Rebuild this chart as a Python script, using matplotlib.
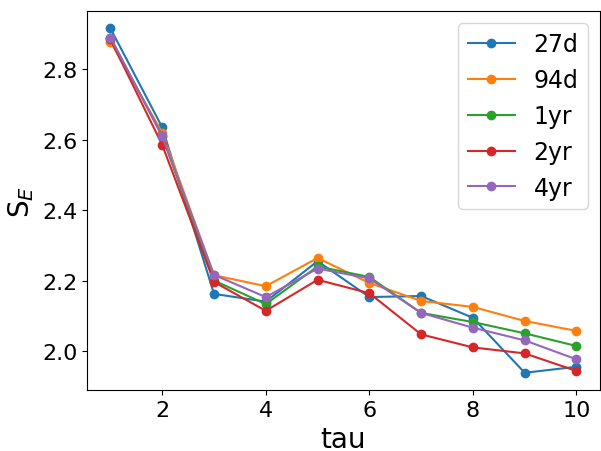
import matplotlib
matplotlib.use("Agg")
import matplotlib.pyplot as plt

tau = [1, 2, 3, 4, 5, 6, 7, 8, 9, 10]

se_27d = [2.916, 2.635, 2.162, 2.140, 2.255, 2.153, 2.156, 2.094, 1.938, 1.955]
se_94d = [2.878, 2.620, 2.215, 2.184, 2.264, 2.193, 2.142, 2.125, 2.085, 2.057]
se_1yr = [2.890, 2.610, 2.200, 2.133, 2.240, 2.210, 2.108, 2.082, 2.050, 2.014]
se_2yr = [2.885, 2.585, 2.196, 2.114, 2.202, 2.164, 2.047, 2.010, 1.993, 1.943]
se_4yr = [2.890, 2.610, 2.216, 2.153, 2.234, 2.206, 2.108, 2.066, 2.030, 1.976]

labels = ["27d", "94d", "1yr", "2yr", "4yr"]
series = [se_27d, se_94d, se_1yr, se_2yr, se_4yr]

fig, ax = plt.subplots(figsize=(6.01, 4.52), dpi=100)
for vals, lab in zip(series, labels):
    ax.plot(tau, vals, marker='o', label=lab)

ax.set_xlabel('tau', fontsize=20)
ax.set_ylabel('S$_E$', fontsize=20)
ax.tick_params(labelsize=16)
ax.legend(fontsize=17)
fig.subplots_adjust(left=0.145, right=0.998, top=0.973, bottom=0.135)
fig.savefig('out.png')
